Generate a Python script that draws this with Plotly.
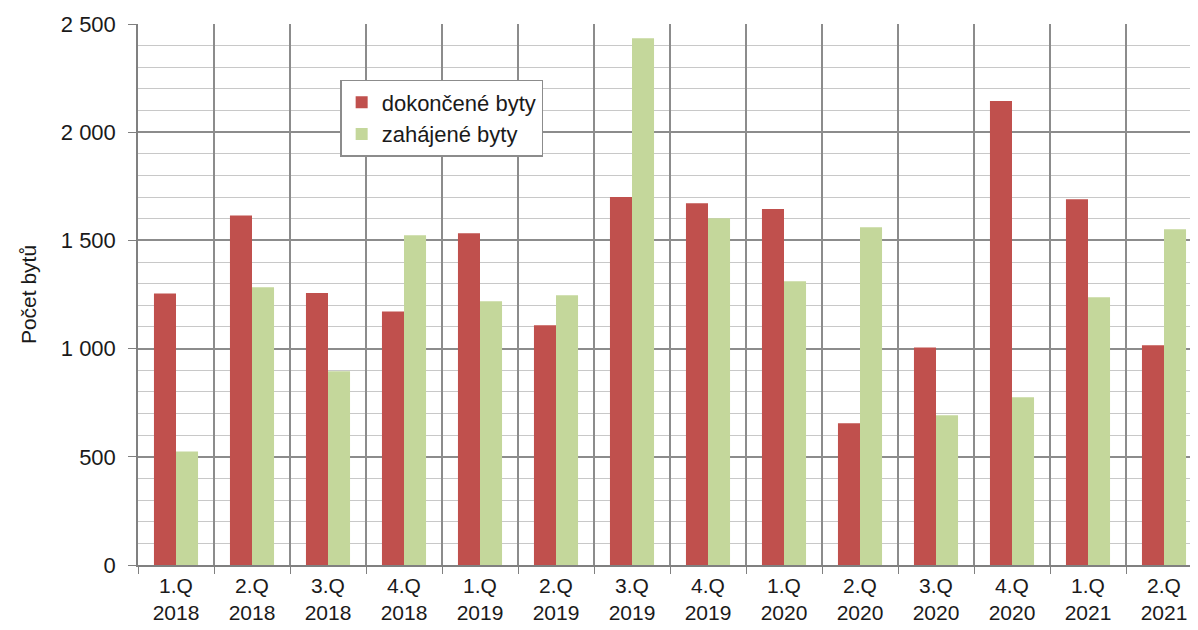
import plotly.graph_objects as go

categories = ["1.Q<br>2018", "2.Q<br>2018", "3.Q<br>2018", "4.Q<br>2018",
              "1.Q<br>2019", "2.Q<br>2019", "3.Q<br>2019", "4.Q<br>2019",
              "1.Q<br>2020", "2.Q<br>2020", "3.Q<br>2020", "4.Q<br>2020",
              "1.Q<br>2021", "2.Q<br>2021"]
dokoncene = [1255, 1615, 1257, 1172, 1533, 1108, 1700, 1672, 1645, 655, 1005, 2144, 1690, 1015]
zahajene = [524, 1284, 895, 1524, 1219, 1247, 2434, 1602, 1311, 1561, 692, 775, 1237, 1552]

fig = go.Figure()
fig.add_trace(go.Bar(x=categories, y=dokoncene, name="dokončené byty",
                     marker=dict(color="#C0504D", line=dict(width=0))))
fig.add_trace(go.Bar(x=categories, y=zahajene, name="zahájené byty",
                     marker=dict(color="#C4D79B", line=dict(width=0))))

font_family = "Liberation Sans, Arial, sans-serif"
fig.update_layout(
    width=1198, height=630,
    margin=dict(l=130, r=4, t=16, b=73),
    paper_bgcolor="white", plot_bgcolor="white",
    barmode="group", bargap=0.42, bargroupgap=0,
    separators=", ",
    font=dict(family=font_family, size=22, color="#1a1a1a"),
    legend=dict(x=0.19, y=0.8965, xanchor="left", yanchor="top",
                bgcolor="white", bordercolor="#8c8c8c", borderwidth=1.5,
                font=dict(size=22), itemwidth=30),
    showlegend=True,
)
fig.update_xaxes(
    type="category", tickson="boundaries", ticks="outside", ticklen=7,
    tickcolor="#808080", showgrid=True, gridcolor="#8c8c8c", gridwidth=1.5,
    showline=True, linecolor="#808080", linewidth=1.5,
    tickfont=dict(size=21), ticklabelstandoff=1, fixedrange=True,
)
fig.update_yaxes(
    range=[0, 2500], dtick=500, tickformat=",d", ticks="outside", ticklen=8,
    tickcolor="#808080", showgrid=True, gridcolor="#8c8c8c", gridwidth=1.5,
    showline=True, linecolor="#808080", linewidth=1.5, zeroline=False,
    minor=dict(dtick=100, showgrid=True, gridcolor="#c8c8c8", gridwidth=1.2),
    title=dict(text="Počet bytů", font=dict(size=21), standoff=18),
    tickfont=dict(size=22), ticklabelstandoff=8,
)

fig.write_html("out.html")
